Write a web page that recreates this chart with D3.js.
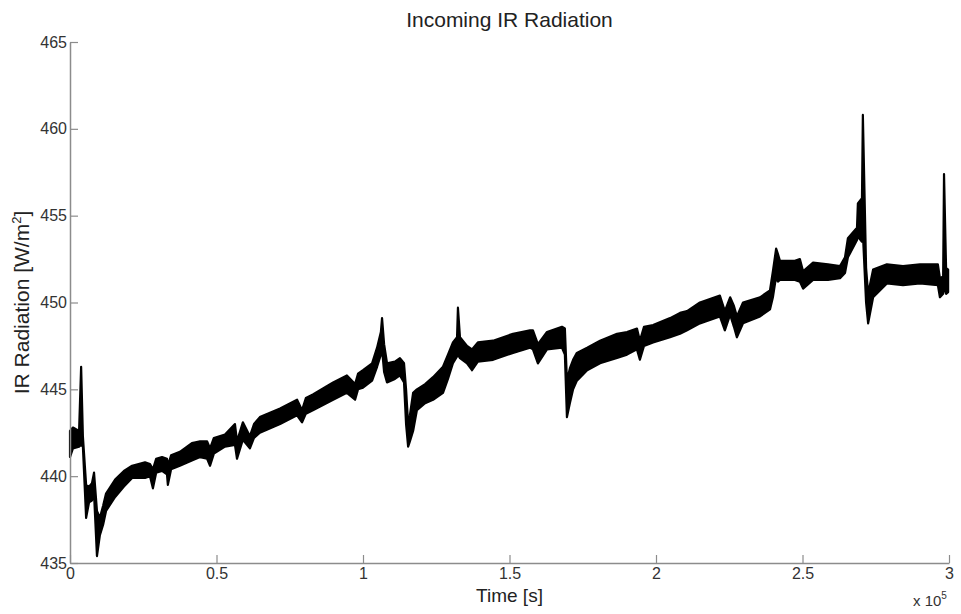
<!DOCTYPE html>
<html>
<head>
<meta charset="utf-8">
<script src="https://cdn.jsdelivr.net/npm/d3@7"></script>
<style>
  body { margin: 0; background: #fff; }
  svg { font-family: "Liberation Sans", Arial, sans-serif; }
</style>
</head>
<body>
<div id="visContainer"></div>
<script>
'use strict';

// time in units of 1e5 s
var timeVals = [0.000,0.010,0.031,0.038,0.044,0.055,0.065,0.075,0.082,0.092,0.102,0.113,0.123,0.154,0.184,0.212,0.256,0.273,0.283,0.294,0.314,0.331,0.334,0.345,0.375,0.416,0.444,0.468,0.478,0.491,0.529,0.563,0.570,0.590,0.614,0.628,0.648,0.717,0.775,0.792,0.805,0.829,0.898,0.945,0.973,0.983,1.000,1.031,1.048,1.061,1.065,1.072,1.082,1.109,1.126,1.140,1.147,1.154,1.160,1.171,1.184,1.212,1.239,1.273,1.290,1.307,1.321,1.324,1.331,1.355,1.372,1.392,1.444,1.512,1.570,1.580,1.597,1.628,1.679,1.689,1.696,1.706,1.717,1.730,1.765,1.809,1.867,1.901,1.935,1.945,1.959,1.990,2.048,2.082,2.106,2.150,2.218,2.235,2.253,2.266,2.276,2.297,2.355,2.389,2.399,2.410,2.416,2.423,2.474,2.491,2.502,2.536,2.587,2.628,2.645,2.655,2.686,2.689,2.703,2.706,2.717,2.724,2.741,2.788,2.843,2.901,2.962,2.969,2.980,2.983,2.990,2.997];
// upper edge of the noisy band [W/m2]
var irHigh = [442.6,442.8,442.6,446.3,442.3,439.5,439.4,439.6,440.2,438.0,437.6,438.3,439.0,439.8,440.3,440.6,440.8,440.7,440.4,441.0,441.1,441.0,440.6,441.2,441.4,441.9,442.0,442.0,441.6,442.2,442.4,443.0,442.0,443.1,442.3,443.0,443.4,443.9,444.4,443.8,444.5,444.7,445.4,445.8,445.3,445.9,446.1,446.5,447.4,448.3,449.1,447.6,446.5,446.6,446.8,446.5,445.0,443.0,443.5,444.8,445.0,445.3,445.7,446.3,447.0,447.7,448.0,449.7,448.0,447.5,447.3,447.7,447.8,448.2,448.4,448.4,447.6,448.3,448.6,448.5,445.5,446.2,446.7,447.1,447.4,447.8,448.2,448.3,448.5,447.8,448.6,448.7,449.1,449.4,449.5,450.0,450.4,449.5,450.3,449.8,449.2,450.0,450.3,450.7,451.8,453.1,452.8,452.4,452.4,452.5,451.8,452.3,452.2,452.1,452.6,453.7,454.3,455.7,456.0,460.8,452.0,450.5,451.9,452.2,452.1,452.2,452.2,451.4,451.5,457.4,452.0,451.9];
// lower edge of the noisy band [W/m2]
var irLow = [441.1,441.6,441.7,441.8,441.7,437.6,438.5,438.6,439.0,435.4,436.6,437.2,438.0,438.8,439.4,439.9,439.9,440.0,439.3,440.2,440.3,440.1,439.5,440.4,440.6,440.9,441.1,441.0,440.6,441.3,441.7,441.8,441.0,442.1,441.6,442.2,442.5,443.0,443.5,443.1,443.6,443.8,444.4,444.8,444.4,445.0,445.1,445.5,446.3,447.0,447.3,446.0,445.4,445.6,445.8,445.4,443.0,441.7,442.0,442.6,443.8,444.2,444.4,444.8,445.6,446.5,446.9,447.0,446.8,446.5,446.1,446.6,446.7,447.1,447.4,447.3,446.5,447.3,447.4,447.0,443.4,444.2,445.0,445.5,446.1,446.5,446.8,447.0,447.3,446.7,447.5,447.7,448.0,448.2,448.4,448.8,449.2,448.4,449.3,448.6,448.0,448.8,449.2,449.6,450.3,451.5,451.2,451.3,451.3,451.2,450.8,451.3,451.3,451.4,451.7,452.6,453.6,453.8,453.5,454.0,450.0,448.8,450.3,451.1,451.0,451.1,451.0,450.3,450.5,451.0,450.5,450.6];

var xTicks = [0, 0.5, 1, 1.5, 2, 2.5, 3];
var yTicks = [435, 440, 445, 450, 455, 460, 465];

var width = 961, height = 614;
var margin = {top: 42, right: 12, bottom: 51, left: 70};

var x = d3.scaleLinear().domain([0, 3]).range([margin.left, width - margin.right]);
var y = d3.scaleLinear().domain([435, 465]).range([height - margin.bottom, margin.top]);

var svg = d3.select('#visContainer')
    .append('svg')
    .attr('width', width)
    .attr('height', height);

var data = [];
for (var i = 0; i < timeVals.length; i++) {
    data.push({t: timeVals[i], hi: irHigh[i], lo: irLow[i]});
}

var band = d3.area()
    .x(function(d){ return x(d.t); })
    .y0(function(d){ return y(d.lo); })
    .y1(function(d){ return y(d.hi); });

svg.append('path')
    .datum(data)
    .attr('d', band)
    .style('fill', '#000')
    .style('stroke', '#000')
    .style('stroke-width', 2.2)
    .style('stroke-linejoin', 'round');

// axes, ticks pointing inward like matlab
var xAxis = d3.axisBottom(x).tickValues(xTicks).tickFormat(d3.format(''))
    .tickSizeInner(-8).tickSizeOuter(0).tickPadding(5);
var yAxis = d3.axisLeft(y).tickValues(yTicks).tickFormat(d3.format('d'))
    .tickSizeInner(-8).tickSizeOuter(0).tickPadding(3);

var gx = svg.append('g').attr('transform', 'translate(0,' + y(435) + ')').call(xAxis);
var gy = svg.append('g').attr('transform', 'translate(' + x(0) + ',0)').call(yAxis);

[gx, gy].forEach(function(g){
    g.select('.domain').style('stroke', '#8c8c8c').style('stroke-width', 1.5);
    g.selectAll('.tick line').style('stroke', '#8c8c8c').style('stroke-width', 1.2);
    g.selectAll('.tick text').style('fill', '#333').style('font-size', '16px')
        .style('font-family', '"Liberation Sans", Arial, sans-serif');
});

svg.append('text')
    .attr('x', (x(0) + x(3)) / 2)
    .attr('y', 27)
    .attr('text-anchor', 'middle')
    .style('font-size', '21px')
    .style('fill', '#222')
    .text('Incoming IR Radiation');

// kept just under the tick labels so the two do not collide
svg.append('text')
    .attr('x', (x(0) + x(3)) / 2)
    .attr('y', 602)
    .attr('text-anchor', 'middle')
    .style('font-size', '19px')
    .style('fill', '#222')
    .text('Time [s]');

var ylab = svg.append('text')
    .attr('transform', 'translate(29,' + (y(435) + y(465)) / 2 + ') rotate(-90)')
    .attr('text-anchor', 'middle')
    .style('font-size', '21px')
    .style('fill', '#222');
ylab.append('tspan').text('IR Radiation [W/m');
ylab.append('tspan').attr('dy', -8).style('font-size', '13px').text('2');
ylab.append('tspan').attr('dy', 8).text(']');

var expo = svg.append('text')
    .attr('x', 913)
    .attr('y', 606)
    .style('font-size', '15px')
    .style('fill', '#333');
expo.append('tspan').text('x 10');
expo.append('tspan').attr('dy', -7).style('font-size', '10px').text('5');
</script>
</body>
</html>
